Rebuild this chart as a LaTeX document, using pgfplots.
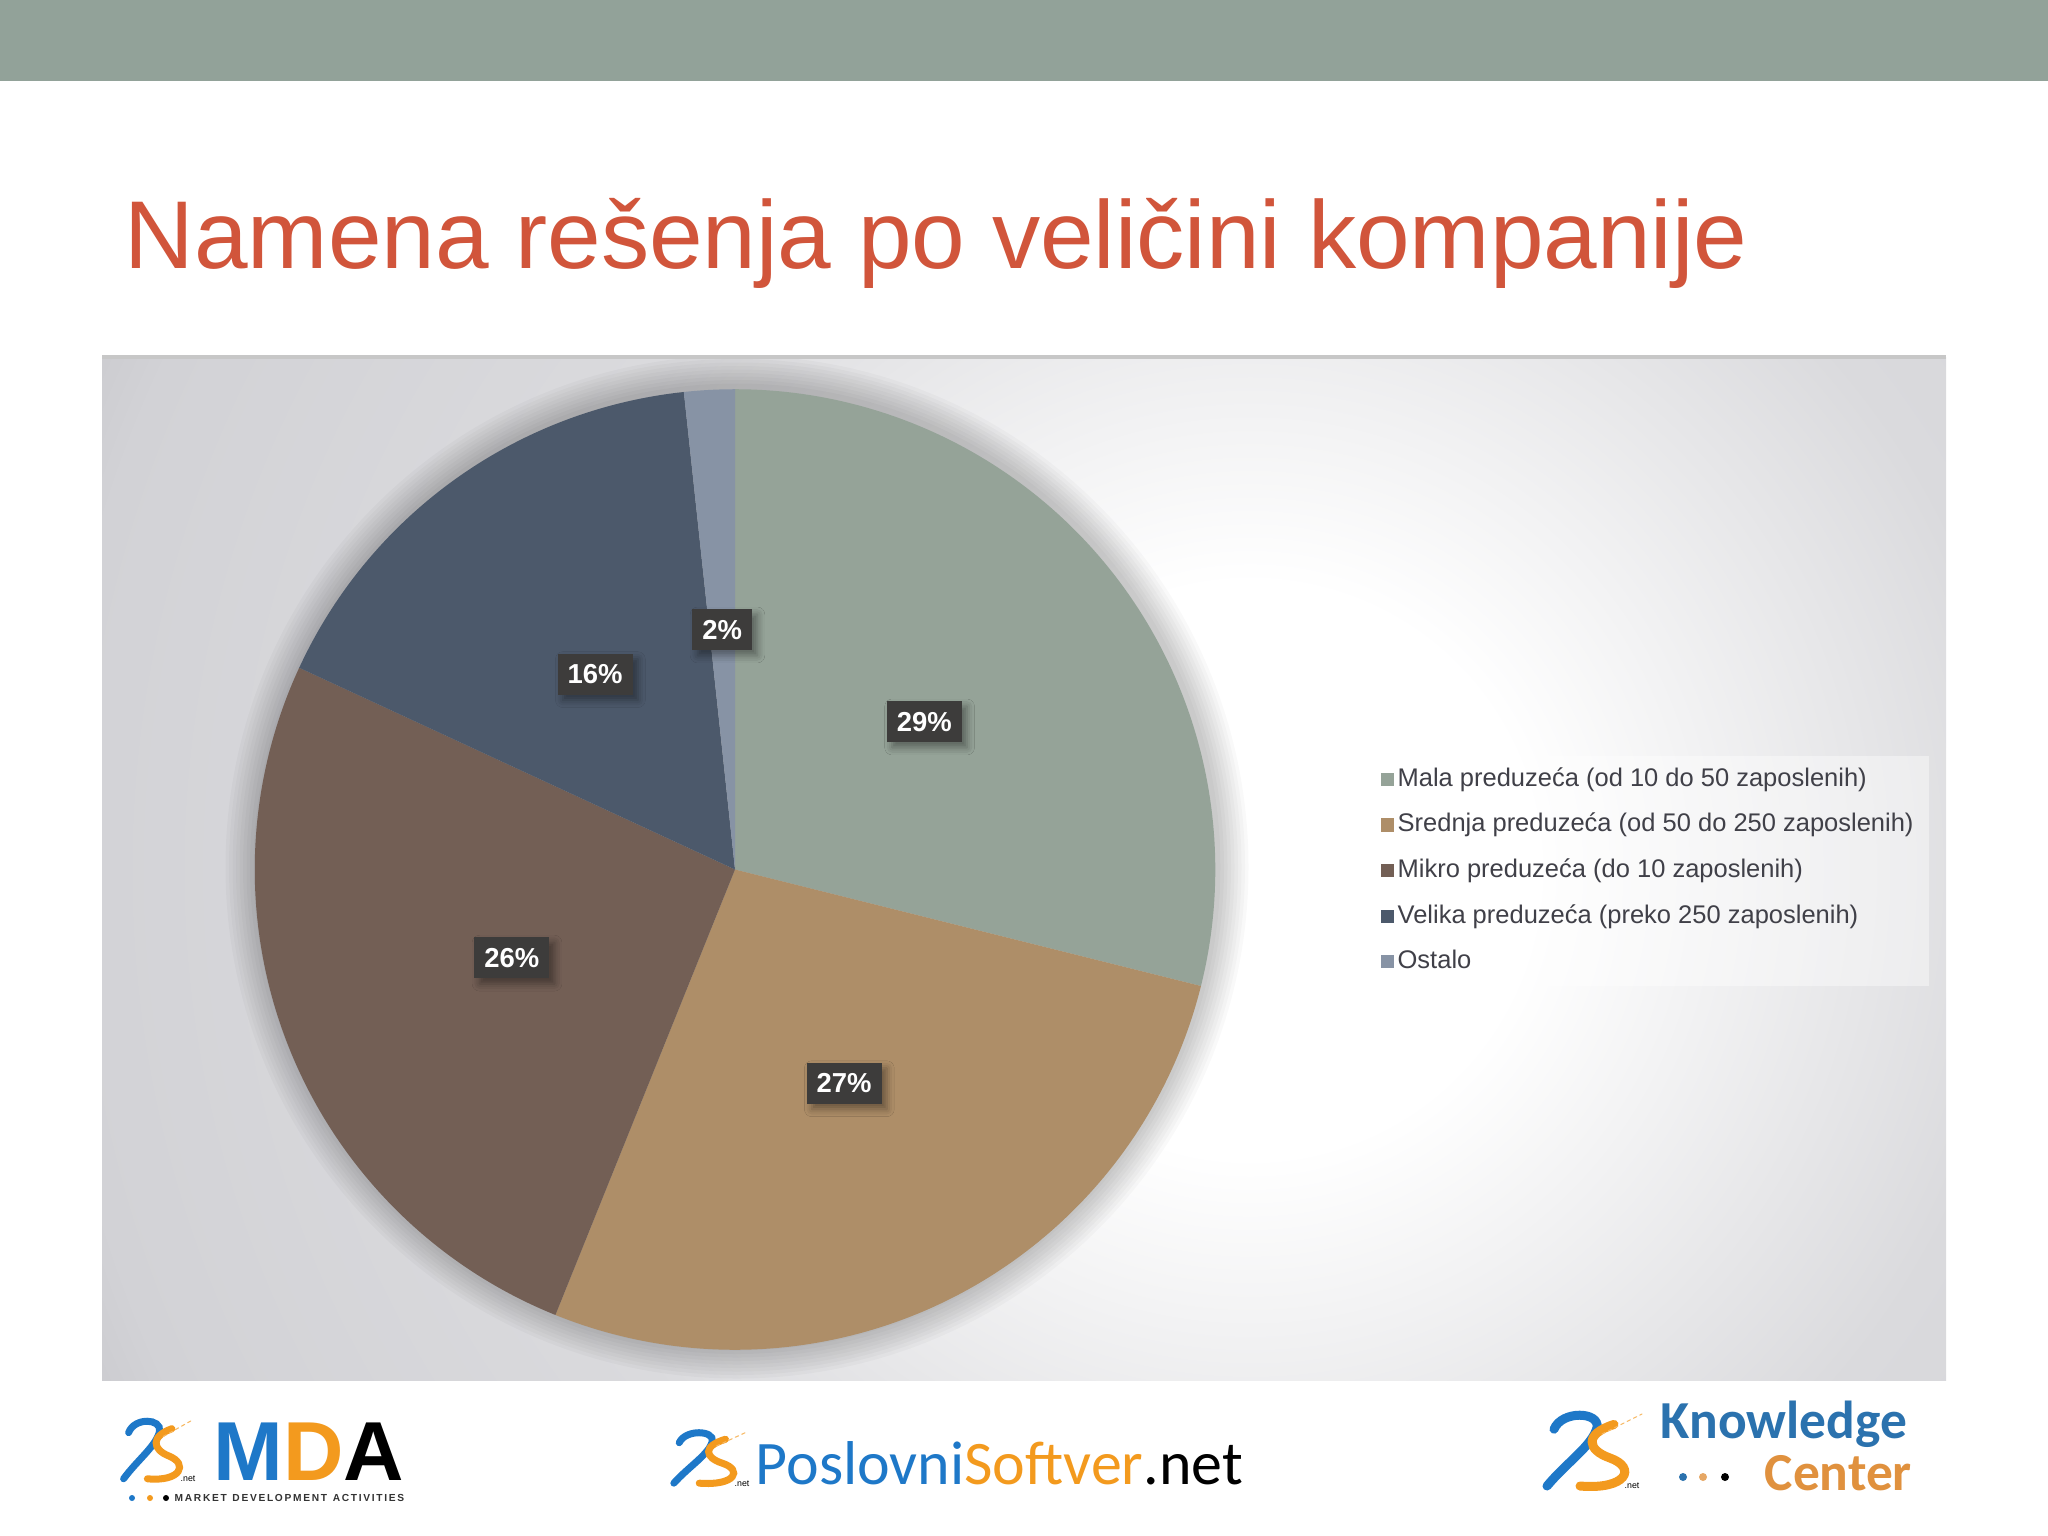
\documentclass[border=0pt]{standalone}
\usepackage{pgfplots}
\pgfplotsset{compat=1.18}
\usepackage{pgfplotstable}
\usetikzlibrary{shadows.blur}
\usepackage{fontspec}
\setmainfont{Liberation Sans}
\newfontfamily\carlito{Carlito}

\definecolor{band}{HTML}{92A299}
\definecolor{titlecol}{HTML}{D1553B}
\definecolor{pie0}{HTML}{95A398}
\definecolor{pie1}{HTML}{AE8E68}
\definecolor{pie2}{HTML}{735F55}
\definecolor{pie3}{HTML}{4C596B}
\definecolor{pie4}{HTML}{8793A5}
\definecolor{lblbg}{HTML}{3D3C3B}
\definecolor{bg1}{HTML}{DADADD}
\definecolor{bg2}{HTML}{D2D2D6}
\definecolor{bg3}{HTML}{C9C9CD}
\definecolor{psblue}{HTML}{1E78C8}
\definecolor{psorange}{HTML}{F39A1E}
\definecolor{kcblue}{HTML}{2B72AE}
\definecolor{kcorange}{HTML}{E0913E}
\definecolor{legtext}{HTML}{404048}

\pgfdeclareradialshading{chartbg}{\pgfpoint{0bp}{0bp}}{color(0bp)=(white); color(5.5bp)=(white); color(15bp)=(bg1); color(23bp)=(bg2); color(25bp)=(bg3); color(50bp)=(bg3)}

\tikzset{lbl/.style={fill=lblbg, text=white, font=\fontsize{7.8pt}{9pt}\selectfont\bfseries,
    inner xsep=0.1cm, inner ysep=0pt, minimum height=0.41cm,
    blur shadow={shadow xshift=1.5pt, shadow yshift=-1.5pt, shadow opacity=40}}}

% shares of the pie (percent)
\pgfplotstableread{
share
28.9
27.2
25.8
16.4
1.7
}\piedata

\newcommand\psicon[5]{% x y w h linewidth
\begin{scope}[shift={(#1,#2)}, x=#3*0.01cm, y=-#4*0.01cm, line cap=round]
 \draw[psblue, line width=#5] (0.05,0.95) .. controls (0.25,0.65) and (0.5,0.45) .. (0.55,0.22) .. controls (0.58,0.02) and (0.2,0.0) .. (0.12,0.24);
 \draw[psorange, line width=#5] (0.72,0.18) .. controls (0.42,0.3) and (0.45,0.5) .. (0.68,0.6) .. controls (0.95,0.72) and (0.85,1.0) .. (0.38,0.95);
 \draw[psorange!70, line width=0.3pt, dash pattern=on 1pt off 1pt] (0.6,0.3) -- (1.0,0.05);
\end{scope}}

\begin{document}
\begin{tikzpicture}
% precompute slice angles
\gdef\cum{0}
\pgfplotsforeachungrouped \i in {0,...,4}{%
  \pgfplotstablegetelem{\i}{share}\of\piedata
  \let\v\pgfplotsretval
  \pgfmathsetmacro\sa{90-3.6*\cum}%
  \pgfmathsetmacro\cumnew{\cum+\v}%
  \xdef\cum{\cumnew}%
  \pgfmathsetmacro\ea{90-3.6*\cum}%
  \pgfmathsetmacro\ma{(\sa+\ea)/2}%
  \pgfmathtruncatemacro\lb{round(\v)}%
  \expandafter\xdef\csname pieS\i\endcsname{\sa}%
  \expandafter\xdef\csname pieE\i\endcsname{\ea}%
  \expandafter\xdef\csname pieM\i\endcsname{\ma}%
  \expandafter\xdef\csname pieL\i\endcsname{\lb}%
}
\begin{scope}[x=0.01cm,y=-0.01cm]
\useasboundingbox (0,0) rectangle (2048,1536);
\fill[white] (0,0) rectangle (2048,1536);
\fill[band] (0,0) rectangle (2048,81);
\node[anchor=base west, inner sep=0pt, text=titlecol, font=\fontsize{27.4pt}{33pt}\selectfont] at (124,268) {Namena rešenja po veličini kompanije};
\begin{scope}
\clip (102,357) rectangle (1946,1380);
\shade[shading=chartbg] (1250,870) circle (1300);
\foreach \k in {1,...,9} {
  \fill[black, opacity=0.022] (737,867) circle ({480+3.5*\k});
}
\end{scope}
\draw[black!22, line width=0.04cm] (102,357) -- (1946,357);

% logos
\psicon{120}{1417}{72}{65}{0.07cm}
\node[anchor=west, inner sep=0pt, font=\fontsize{2.5pt}{3pt}\selectfont] at (180,1479) {.net};
\node[anchor=base west, inner sep=0pt, font=\fontsize{23.8pt}{28pt}\selectfont\bfseries] at (213,1480) {\textcolor{psblue}{M}\textcolor{psorange}{D}\textcolor{black}{A}};
\fill[psblue] (132,1498) circle (3);
\fill[psorange] (150,1498) circle (3);
\fill[black] (166,1498) circle (3);
\node[anchor=west, inner sep=0pt, font=\fontsize{2.9pt}{4pt}\selectfont\bfseries, text=black!80] at (174,1498) {M\,A\,R\,K\,E\,T\ \ D\,E\,V\,E\,L\,O\,P\,M\,E\,N\,T\ \ A\,C\,T\,I\,V\,I\,T\,I\,E\,S};

\psicon{670}{1429}{77}{57}{0.07cm}
\node[anchor=west, inner sep=0pt, font=\fontsize{2.5pt}{3pt}\selectfont] at (734,1484) {.net};
\node[anchor=base west, inner sep=0pt, font=\carlito\fontsize{17.6pt}{20pt}\selectfont] at (755,1484) {\textcolor{psblue}{Poslovni}\textcolor{psorange}{Softver}\textcolor{black}{.net}};

\psicon{1542}{1410}{100}{80}{0.09cm}
\node[anchor=west, inner sep=0pt, font=\fontsize{2.5pt}{3pt}\selectfont] at (1624,1486) {.net};
\node[anchor=base west, inner sep=0pt, font=\carlito\fontsize{15.2pt}{18pt}\selectfont\bfseries, text=kcblue] at (1660,1438) {Knowledge};
\node[anchor=base west, inner sep=0pt, font=\carlito\fontsize{15.2pt}{18pt}\selectfont\bfseries, text=kcorange] at (1764,1490) {Center};
\fill[kcblue] (1683,1477) circle (4);
\fill[kcorange!80!white] (1703,1477) circle (4);
\fill[black] (1725,1477) circle (4);
\end{scope}

\begin{axis}[
  at={(7.346cm,-8.69cm)}, anchor=center,
  width=9.6cm, height=9.6cm, scale only axis,
  xmin=-1, xmax=1, ymin=-1, ymax=1,
  hide axis, clip=false,
  legend style={
    at={(axis description cs:1.159,0.619)}, anchor=north west,
    fill=white, fill opacity=0.4, text opacity=1, draw=none,
    font=\fontsize{7.25pt}{8.7pt}\selectfont, text=legtext,
    inner xsep=0.12cm, inner ysep=0.01cm, row sep=0pt,
    nodes={inner xsep=0.035cm, inner ysep=0pt, minimum height=0.455cm},
  },
  legend cell align=left,
]
\pgfplotsinvokeforeach{0,...,4}{%
  \edef\temp{\noexpand\fill[pie#1] (axis cs:0,0) -- ++(\csname pieS#1\endcsname:4.8cm) arc[start angle=\csname pieS#1\endcsname, end angle=\csname pieE#1\endcsname, radius=4.8cm] -- cycle;}\temp
}
\pgfplotsinvokeforeach{0,...,4}{%
  \edef\temp{\noexpand\node[lbl] at (axis cs:{0.5*cos(\csname pieM#1\endcsname)},{0.5*sin(\csname pieM#1\endcsname)}) {\csname pieL#1\endcsname\noexpand\%};}\temp
}
\addlegendimage{legend image code/.code={\fill[pie0, fill opacity=1] (0cm,-0.06cm) rectangle (0.12cm,0.06cm);}}
\addlegendentry{Mala preduzeća (od 10 do 50 zaposlenih)}
\addlegendimage{legend image code/.code={\fill[pie1, fill opacity=1] (0cm,-0.06cm) rectangle (0.12cm,0.06cm);}}
\addlegendentry{Srednja preduzeća (od 50 do 250 zaposlenih)}
\addlegendimage{legend image code/.code={\fill[pie2, fill opacity=1] (0cm,-0.06cm) rectangle (0.12cm,0.06cm);}}
\addlegendentry{Mikro preduzeća (do 10 zaposlenih)}
\addlegendimage{legend image code/.code={\fill[pie3, fill opacity=1] (0cm,-0.06cm) rectangle (0.12cm,0.06cm);}}
\addlegendentry{Velika preduzeća (preko 250 zaposlenih)}
\addlegendimage{legend image code/.code={\fill[pie4, fill opacity=1] (0cm,-0.06cm) rectangle (0.12cm,0.06cm);}}
\addlegendentry{Ostalo}
\end{axis}
\end{tikzpicture}
\end{document}
